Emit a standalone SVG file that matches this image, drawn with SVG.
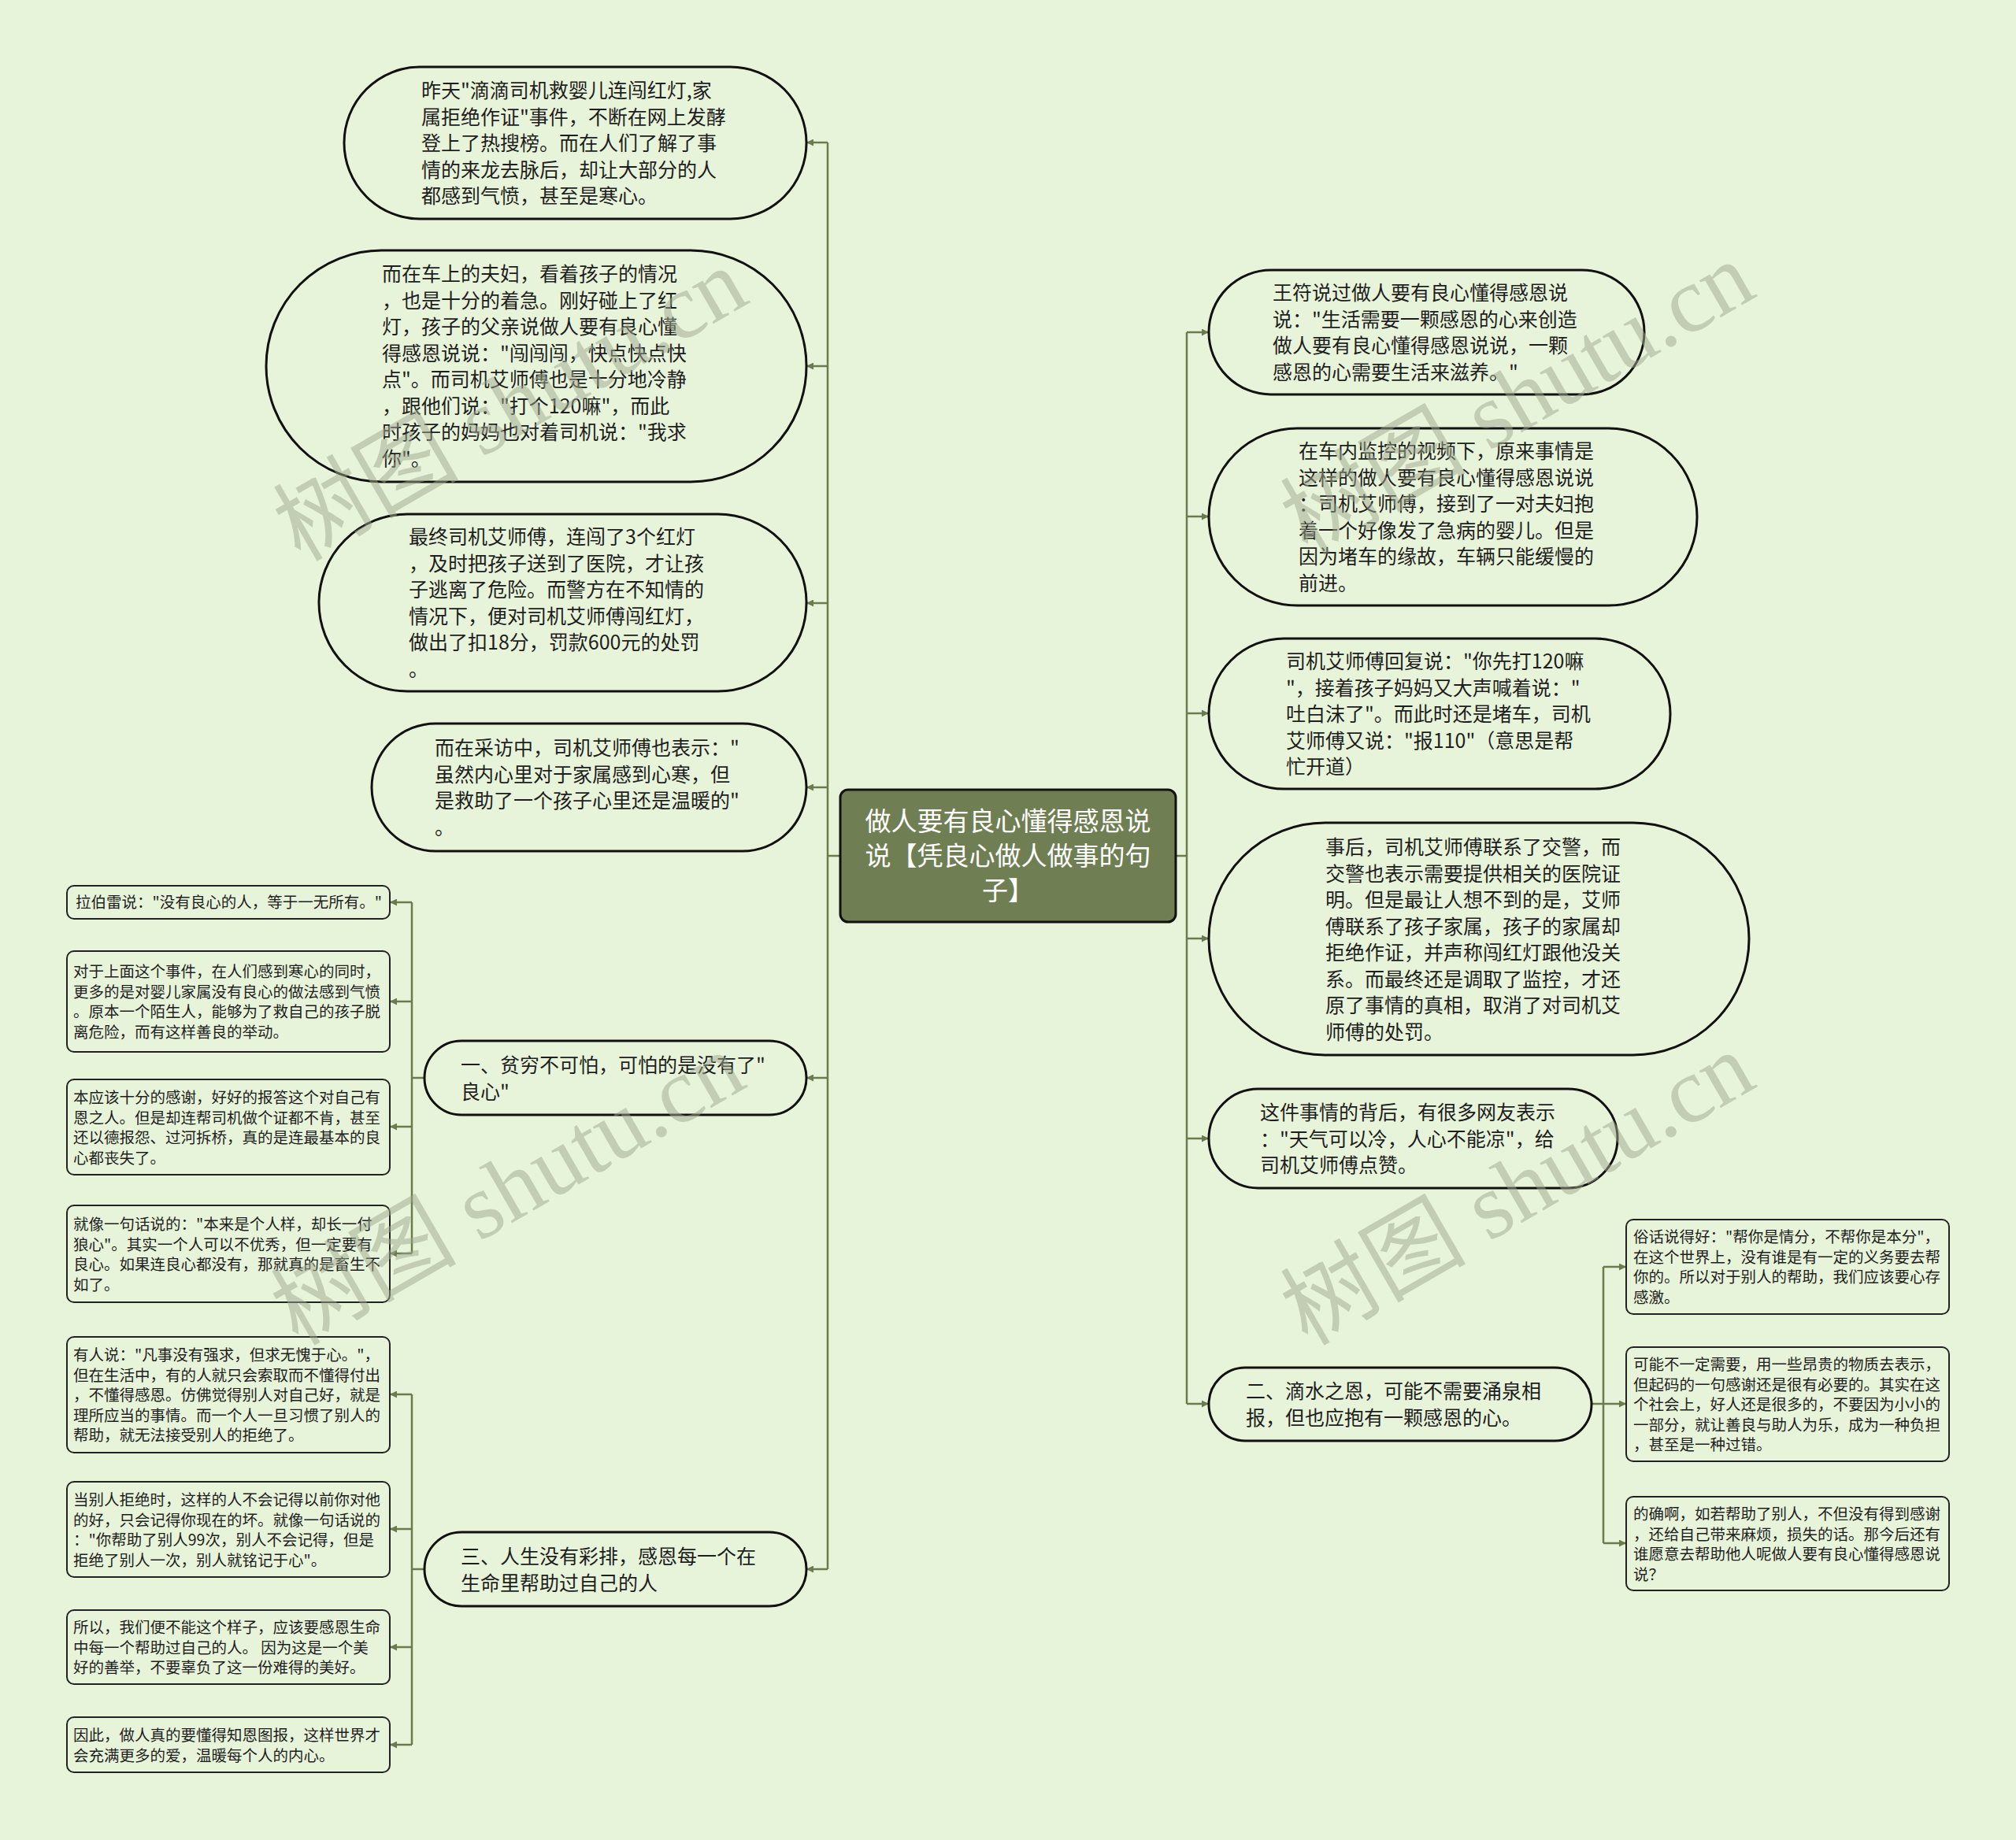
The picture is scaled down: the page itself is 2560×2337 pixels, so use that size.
<svg xmlns="http://www.w3.org/2000/svg" width="2560" height="2337" viewBox="0 0 2560 2337">
<defs>
<marker id="arr" viewBox="0 0 10 10" refX="10" refY="5" markerWidth="10" markerHeight="9" markerUnits="userSpaceOnUse" orient="auto">
<path d="M0,0 L10,5 L0,10 z" fill="#6b7b4d"/>
</marker>
<style>
.bg{fill:#e8f4da}
.pill{fill:#e8f4da;stroke:#111;stroke-width:3}
.box{fill:#e8f4da;stroke:#222;stroke-width:2}
.root{fill:#707f53;stroke:#111;stroke-width:3}
.t{font-family:"Noto Sans CJK SC","Noto Sans",sans-serif;font-size:25px;fill:#1e1e1e}
.s{font-family:"Noto Sans CJK SC","Noto Sans",sans-serif;font-size:19.5px;fill:#1e1e1e}
.rt{font-family:"Noto Sans CJK SC","Noto Sans",sans-serif;font-size:33px;fill:#ffffff;text-anchor:middle}
.c{fill:none;stroke:#6b7b4d;stroke-width:2.5}
.ca{fill:none;stroke:#6b7b4d;stroke-width:2.5;marker-end:url(#arr)}
.wm{font-family:"Liberation Serif","Noto Sans CJK SC",serif;font-size:118px;fill:#a0a890;opacity:0.5;text-anchor:middle}
</style>
</defs>
<rect class="bg" x="0" y="0" width="2560" height="2337"/>

<g id="connectors">
<path class="c" d="M1067,1087 H1051"/>
<path class="c" d="M1051,181 V1993"/>
<path class="ca" d="M1051,181 H1024"/>
<path class="ca" d="M1051,465 H1024"/>
<path class="ca" d="M1051,766 H1024"/>
<path class="ca" d="M1051,1000 H1024"/>
<path class="ca" d="M1051,1369 H1024"/>
<path class="ca" d="M1051,1993 H1024"/>
<path class="c" d="M1493,1087 H1507"/>
<path class="c" d="M1507,422 V1783"/>
<path class="ca" d="M1507,422 H1535"/>
<path class="ca" d="M1507,656 H1535"/>
<path class="ca" d="M1507,906 H1535"/>
<path class="ca" d="M1507,1192 H1535"/>
<path class="ca" d="M1507,1446 H1535"/>
<path class="ca" d="M1507,1783 H1535"/>
<path class="c" d="M539,1369 H523"/>
<path class="c" d="M523,1146 V1592"/>
<path class="ca" d="M523,1146 H495"/>
<path class="ca" d="M523,1272 H495"/>
<path class="ca" d="M523,1431 H495"/>
<path class="ca" d="M523,1592 H495"/>
<path class="c" d="M539,1993 H523"/>
<path class="c" d="M523,1771 V2216"/>
<path class="ca" d="M523,1771 H495"/>
<path class="ca" d="M523,1942 H495"/>
<path class="ca" d="M523,2092 H495"/>
<path class="ca" d="M523,2216 H495"/>
<path class="c" d="M2021,1783 H2036"/>
<path class="c" d="M2036,1609 V1960"/>
<path class="ca" d="M2036,1609 H2065"/>
<path class="ca" d="M2036,1783 H2065"/>
<path class="ca" d="M2036,1960 H2065"/>
</g>

<g id="root">
<rect class="root" x="1067" y="1003" width="426" height="168" rx="10"/>
<text class="rt"><tspan x="1280" y="1055">做人要有良心懂得感恩说</tspan><tspan x="1280" y="1099">说【凭良心做人做事的句</tspan><tspan x="1280" y="1143">子】</tspan></text>
</g>

<g id="nodeA">
<rect class="pill" x="437" y="85" width="587" height="193" rx="96.5"/>
<text class="t"><tspan x="535" y="124">昨天"滴滴司机救婴儿连闯红灯,家</tspan><tspan x="535" dy="33.5">属拒绝作证"事件，不断在网上发酵</tspan><tspan x="535" dy="33.5">登上了热搜榜。而在人们了解了事</tspan><tspan x="535" dy="33.5">情的来龙去脉后，却让大部分的人</tspan><tspan x="535" dy="33.5">都感到气愤，甚至是寒心。</tspan></text>
</g>

<g id="nodeB">
<rect class="pill" x="338" y="318" width="686" height="294" rx="147"/>
<text class="t"><tspan x="485" y="357">而在车上的夫妇，看着孩子的情况</tspan><tspan x="485" dy="33.5">，也是十分的着急。刚好碰上了红</tspan><tspan x="485" dy="33.5">灯，孩子的父亲说做人要有良心懂</tspan><tspan x="485" dy="33.5">得感恩说说："闯闯闯，快点快点快</tspan><tspan x="485" dy="33.5">点"。而司机艾师傅也是十分地冷静</tspan><tspan x="485" dy="33.5">，跟他们说："打个120嘛"，而此</tspan><tspan x="485" dy="33.5">时孩子的妈妈也对着司机说："我求</tspan><tspan x="485" dy="33.5">你"。</tspan></text>
</g>

<g id="nodeC">
<rect class="pill" x="405" y="653" width="619" height="225" rx="112.5"/>
<text class="t"><tspan x="519" y="691">最终司机艾师傅，连闯了3个红灯</tspan><tspan x="519" dy="33.5">，及时把孩子送到了医院，才让孩</tspan><tspan x="519" dy="33.5">子逃离了危险。而警方在不知情的</tspan><tspan x="519" dy="33.5">情况下，便对司机艾师傅闯红灯，</tspan><tspan x="519" dy="33.5">做出了扣18分，罚款600元的处罚</tspan><tspan x="519" dy="33.5">。</tspan></text>
</g>

<g id="nodeD">
<rect class="pill" x="472" y="919" width="552" height="162" rx="81"/>
<text class="t"><tspan x="552" y="959">而在采访中，司机艾师傅也表示："</tspan><tspan x="552" dy="33.5">虽然内心里对于家属感到心寒，但</tspan><tspan x="552" dy="33.5">是救助了一个孩子心里还是温暖的"</tspan><tspan x="552" dy="33.5">。</tspan></text>
</g>

<g id="nodeE">
<rect class="pill" x="539" y="1322" width="485" height="94" rx="47"/>
<text class="t"><tspan x="585" y="1362">一、贫穷不可怕，可怕的是没有了"</tspan><tspan x="585" dy="33.5">良心"</tspan></text>
</g>

<g id="nodeE1">
<rect class="box" x="85" y="1125" width="410" height="42" rx="9"/>
<text class="s"><tspan x="96" y="1153">拉伯雷说："没有良心的人，等于一无所有。"</tspan></text>
</g>
<g id="nodeE2">
<rect class="box" x="85" y="1208" width="410" height="128" rx="9"/>
<text class="s"><tspan x="93" y="1241">对于上面这个事件，在人们感到寒心的同时，</tspan><tspan x="93" dy="25.5">更多的是对婴儿家属没有良心的做法感到气愤</tspan><tspan x="93" dy="25.5">。原本一个陌生人，能够为了救自己的孩子脱</tspan><tspan x="93" dy="25.5">离危险，而有这样善良的举动。</tspan></text>
</g>
<g id="nodeE3">
<rect class="box" x="85" y="1371" width="410" height="121" rx="9"/>
<text class="s"><tspan x="93" y="1401">本应该十分的感谢，好好的报答这个对自己有</tspan><tspan x="93" dy="25.5">恩之人。但是却连帮司机做个证都不肯，甚至</tspan><tspan x="93" dy="25.5">还以德报怨、过河拆桥，真的是连最基本的良</tspan><tspan x="93" dy="25.5">心都丧失了。</tspan></text>
</g>
<g id="nodeE4">
<rect class="box" x="85" y="1531" width="410" height="123" rx="9"/>
<text class="s"><tspan x="93" y="1562">就像一句话说的："本来是个人样，却长一付</tspan><tspan x="93" dy="25.5">狼心"。其实一个人可以不优秀，但一定要有</tspan><tspan x="93" dy="25.5">良心。如果连良心都没有，那就真的是畜生不</tspan><tspan x="93" dy="25.5">如了。</tspan></text>
</g>

<g id="nodeF">
<rect class="pill" x="539" y="1946" width="485" height="94" rx="47"/>
<text class="t"><tspan x="585" y="1986">三、人生没有彩排，感恩每一个在</tspan><tspan x="585" dy="33.5">生命里帮助过自己的人</tspan></text>
</g>

<g id="nodeF1">
<rect class="box" x="85" y="1698" width="410" height="147" rx="9"/>
<text class="s"><tspan x="93" y="1728">有人说："凡事没有强求，但求无愧于心。"，</tspan><tspan x="93" dy="25.5">但在生活中，有的人就只会索取而不懂得付出</tspan><tspan x="93" dy="25.5">，不懂得感恩。仿佛觉得别人对自己好，就是</tspan><tspan x="93" dy="25.5">理所应当的事情。而一个人一旦习惯了别人的</tspan><tspan x="93" dy="25.5">帮助，就无法接受别人的拒绝了。</tspan></text>
</g>
<g id="nodeF2">
<rect class="box" x="85" y="1882" width="410" height="121" rx="9"/>
<text class="s"><tspan x="93" y="1912">当别人拒绝时，这样的人不会记得以前你对他</tspan><tspan x="93" dy="25.5">的好，只会记得你现在的坏。就像一句话说的</tspan><tspan x="93" dy="25.5">："你帮助了别人99次，别人不会记得，但是</tspan><tspan x="93" dy="25.5">拒绝了别人一次，别人就铭记于心"。</tspan></text>
</g>
<g id="nodeF3">
<rect class="box" x="85" y="2045" width="410" height="94" rx="9"/>
<text class="s"><tspan x="93" y="2074">所以，我们便不能这个样子，应该要感恩生命</tspan><tspan x="93" dy="25.5">中每一个帮助过自己的人。 因为这是一个美</tspan><tspan x="93" dy="25.5">好的善举，不要辜负了这一份难得的美好。</tspan></text>
</g>
<g id="nodeF4">
<rect class="box" x="85" y="2181" width="410" height="70" rx="9"/>
<text class="s"><tspan x="93" y="2211">因此，做人真的要懂得知恩图报，这样世界才</tspan><tspan x="93" dy="25.5">会充满更多的爱，温暖每个人的内心。</tspan></text>
</g>

<g id="nodeR1">
<rect class="pill" x="1535" y="343" width="553" height="158" rx="79"/>
<text class="t"><tspan x="1616" y="381">王符说过做人要有良心懂得感恩说</tspan><tspan x="1616" dy="33.5">说："生活需要一颗感恩的心来创造</tspan><tspan x="1616" dy="33.5">做人要有良心懂得感恩说说，一颗</tspan><tspan x="1616" dy="33.5">感恩的心需要生活来滋养。"</tspan></text>
</g>

<g id="nodeR2">
<rect class="pill" x="1535" y="544" width="620" height="225" rx="112.5"/>
<text class="t"><tspan x="1649" y="582">在车内监控的视频下，原来事情是</tspan><tspan x="1649" dy="33.5">这样的做人要有良心懂得感恩说说</tspan><tspan x="1649" dy="33.5">：司机艾师傅，接到了一对夫妇抱</tspan><tspan x="1649" dy="33.5">着一个好像发了急病的婴儿。但是</tspan><tspan x="1649" dy="33.5">因为堵车的缘故，车辆只能缓慢的</tspan><tspan x="1649" dy="33.5">前进。</tspan></text>
</g>

<g id="nodeR3">
<rect class="pill" x="1535" y="811" width="586" height="191" rx="95.5"/>
<text class="t"><tspan x="1633" y="849">司机艾师傅回复说："你先打120嘛</tspan><tspan x="1633" dy="33.5">"，接着孩子妈妈又大声喊着说："</tspan><tspan x="1633" dy="33.5">吐白沫了"。而此时还是堵车，司机</tspan><tspan x="1633" dy="33.5">艾师傅又说："报110"（意思是帮</tspan><tspan x="1633" dy="33.5">忙开道）</tspan></text>
</g>

<g id="nodeR4">
<rect class="pill" x="1535" y="1045" width="686" height="295" rx="147.5"/>
<text class="t"><tspan x="1683" y="1085">事后，司机艾师傅联系了交警，而</tspan><tspan x="1683" dy="33.5">交警也表示需要提供相关的医院证</tspan><tspan x="1683" dy="33.5">明。但是最让人想不到的是，艾师</tspan><tspan x="1683" dy="33.5">傅联系了孩子家属，孩子的家属却</tspan><tspan x="1683" dy="33.5">拒绝作证，并声称闯红灯跟他没关</tspan><tspan x="1683" dy="33.5">系。而最终还是调取了监控，才还</tspan><tspan x="1683" dy="33.5">原了事情的真相，取消了对司机艾</tspan><tspan x="1683" dy="33.5">师傅的处罚。</tspan></text>
</g>

<g id="nodeR5">
<rect class="pill" x="1535" y="1383" width="519" height="126" rx="63"/>
<text class="t"><tspan x="1600" y="1422">这件事情的背后，有很多网友表示</tspan><tspan x="1600" dy="33.5">："天气可以冷，人心不能凉"，给</tspan><tspan x="1600" dy="33.5">司机艾师傅点赞。</tspan></text>
</g>

<g id="nodeR6">
<rect class="pill" x="1535" y="1737" width="486" height="93" rx="46.5"/>
<text class="t"><tspan x="1582" y="1776">二、滴水之恩，可能不需要涌泉相</tspan><tspan x="1582" dy="33.5">报，但也应抱有一颗感恩的心。</tspan></text>
</g>

<g id="nodeG1">
<rect class="box" x="2065" y="1549" width="410" height="120" rx="9"/>
<text class="s"><tspan x="2074" y="1578">俗话说得好："帮你是情分，不帮你是本分"，</tspan><tspan x="2074" dy="25.5">在这个世界上，没有谁是有一定的义务要去帮</tspan><tspan x="2074" dy="25.5">你的。所以对于别人的帮助，我们应该要心存</tspan><tspan x="2074" dy="25.5">感激。</tspan></text>
</g>
<g id="nodeG2">
<rect class="box" x="2065" y="1711" width="410" height="145" rx="9"/>
<text class="s"><tspan x="2074" y="1740">可能不一定需要，用一些昂贵的物质去表示，</tspan><tspan x="2074" dy="25.5">但起码的一句感谢还是很有必要的。其实在这</tspan><tspan x="2074" dy="25.5">个社会上，好人还是很多的，不要因为小小的</tspan><tspan x="2074" dy="25.5">一部分，就让善良与助人为乐，成为一种负担</tspan><tspan x="2074" dy="25.5">，甚至是一种过错。</tspan></text>
</g>
<g id="nodeG3">
<rect class="box" x="2065" y="1901" width="410" height="119" rx="9"/>
<text class="s"><tspan x="2074" y="1930">的确啊，如若帮助了别人，不但没有得到感谢</tspan><tspan x="2074" dy="25.5">，还给自己带来麻烦，损失的话。那今后还有</tspan><tspan x="2074" dy="25.5">谁愿意去帮助他人呢做人要有良心懂得感恩说</tspan><tspan x="2074" dy="25.5">说？</tspan></text>
</g>

<g id="watermarks">
<text class="wm" transform="translate(648,514) rotate(-30)" y="40">树图 shutu.cn</text>
<text class="wm" transform="translate(1927,506) rotate(-30)" y="40">树图 shutu.cn</text>
<text class="wm" transform="translate(645,1510) rotate(-30)" y="40">树图 shutu.cn</text>
<text class="wm" transform="translate(1927,1510) rotate(-30)" y="40">树图 shutu.cn</text>
</g>
</svg>
